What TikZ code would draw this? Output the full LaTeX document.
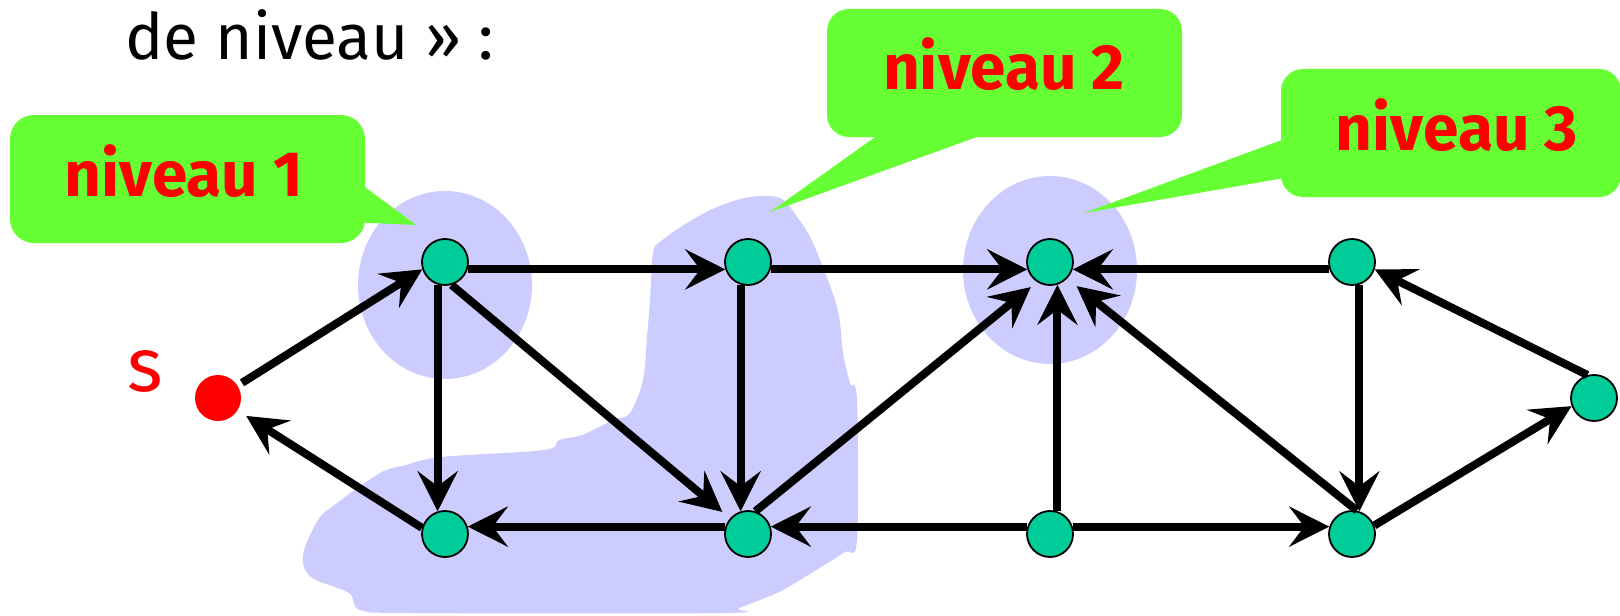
\documentclass[tikz,border=0pt]{standalone}
\usepackage{fontspec}
\setmainfont{Fira Sans}
\usetikzlibrary{arrows.meta}

\begin{document}
\begin{tikzpicture}[x=0.5pt,y=-0.5pt,
  vertex/.style={circle,draw=black,line width=0.9pt,fill=vertexColor,minimum size=23pt,inner sep=0pt},
  source/.style={circle,fill=red,minimum size=23pt,inner sep=0pt},
  link/.style={line width=4pt,-{Stealth[length=20pt,width=20pt,inset=7.5pt]}},
  zone/.style={fill=zoneColor},
  bubble/.style={fill=bubbleColor},
  tag/.style={text=red,font=\fontsize{32}{38}\selectfont\bfseries,inner sep=0pt,anchor=base}]
\definecolor{vertexColor}{RGB}{0,204,153}
\definecolor{zoneColor}{RGB}{204,204,255}
\definecolor{bubbleColor}{RGB}{102,255,51}
\useasboundingbox (0,0) rectangle (1620,615);

% levels
\fill[zone] (445,285) ellipse [x radius=87, y radius=94];
\fill[zone] (1050,270) ellipse [x radius=87, y radius=94];
\fill[zone] plot[smooth cycle,tension=0.55] coordinates {
  (303,555) (318,520) (337,503) (380,473) (406,465) (441,457) (544,450)
  (559,440) (582,435) (613,420) (630,413) (643,380) (647,337) (650,300)
  (653,253) (660,242) (687,223) (717,207) (750,197) (780,198) (797,217)
  (813,243) (837,307) (843,353) (850,383) (857,400) (857,540) (843,553)
  (800,580) (777,593) (739,608) (724,613) (414,613) (360,610) (349,593)
  (311,577)};

% callouts
\fill[bubble,rounded corners=12pt] (10,115) rectangle (365,243);
\fill[bubble] (350,176) -- (416,225) -- (350,222) -- cycle;
\fill[bubble,rounded corners=11pt] (827,9) rectangle (1182,137);
\fill[bubble] (885,130) -- (770,212) -- (996,130) -- cycle;
\fill[bubble,rounded corners=11pt] (1281,69) rectangle (1621,197);
\fill[bubble] (1290,137) -- (1084,213) -- (1290,177) -- cycle;

\node[anchor=base west,inner sep=0pt,font=\fontsize{32}{38}\selectfont] (title) at (125,60) {de niveau » :};
\node[tag] (t1) at (184,196) {niveau 1};
\node[tag] (t2) at (1004,90) {niveau 2};
\node[tag] (t3) at (1457,150) {niveau 3};
\node[anchor=base,text=red,inner sep=0pt,font=\fontsize{38}{44}\selectfont] (slabel) at (145,391) {s};

% vertices
\node[source] (s) at (218,398) {};
\node[vertex] (A) at (445,262) {};
\node[vertex] (B) at (445,534) {};
\node[vertex] (C) at (748,262) {};
\node[vertex] (D) at (748,534) {};
\node[vertex] (E) at (1050,262) {};
\node[vertex] (F) at (1050,534) {};
\node[vertex] (G) at (1352,262) {};
\node[vertex] (H) at (1352,534) {};
\node[vertex] (I) at (1594,398) {};

% arcs
\draw[link,shorten <=2.5pt] (s) -- (A.198);
\draw[link,shorten >=5pt] (B.165) -- (s);
\draw[link] (A.-18) -- (C.198);
\draw[link] (A.252) -- (B.108);
\draw[link,shorten >=5pt] (A.-74) -- (D.139);
\draw[link] (C.252) -- (D.108);
\draw[link] (C.-18) -- (E.198);
\draw[link] (D.162) -- (B.18);
\draw[link,shorten >=4pt] (D.72) -- (E.237);
\draw[link] (F.162) -- (D.18);
\draw[link] (F.72) -- (E.288);
\draw[link] (F.18) -- (H.162);
\draw[link] (G.198) -- (E.-18);
\draw[link,shorten >=6pt] (H.78) -- (E.-44);
\draw[link] (G.288) -- (H.72);
\draw[link] (I.106) -- (G.-18);
\draw[link] (H.21) -- (I.200);
\end{tikzpicture}
\end{document}
